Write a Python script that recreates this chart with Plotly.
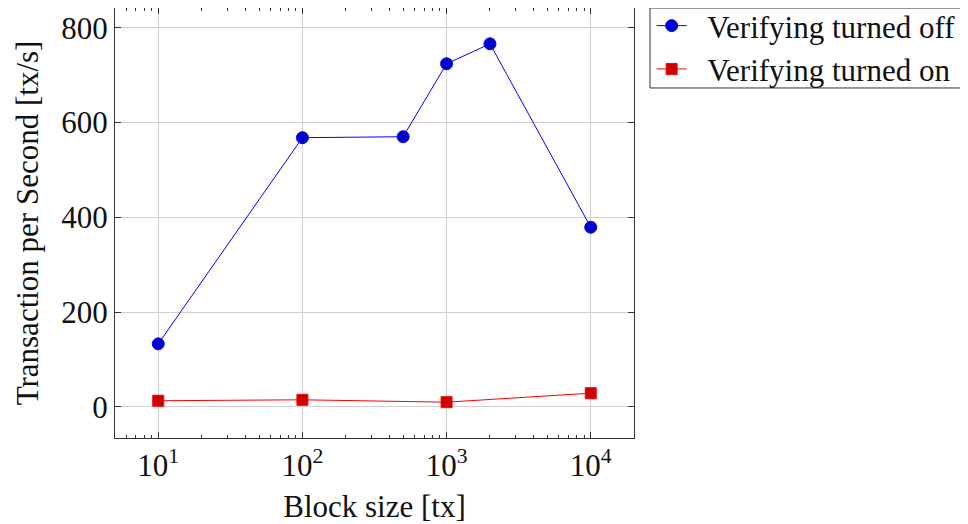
import plotly.graph_objects as go

x_off = [10, 100, 500, 1000, 2000, 10000]
y_off = [133, 568, 570, 724, 766, 379]
x_on = [10, 100, 1000, 10000]
y_on = [13, 15, 10, 29]

x_tickvals = [10, 100, 1000, 10000]
x_ticktext = ["10<sup>1</sup>", "10<sup>2</sup>", "10<sup>3</sup>", "10<sup>4</sup>"]
y_tickvals = [0, 200, 400, 600, 800]

FONT = "Liberation Serif"
FS = 31
NB = "\u00a0\u00a0"

fig = go.Figure()
fig.add_trace(go.Scatter(x=x_off, y=y_off, mode="lines+markers", name=NB + "Verifying turned off",
                         line=dict(color="#0000ff", width=1),
                         marker=dict(symbol="circle", size=12, color="#0000cc",
                                     line=dict(color="#0000ff", width=1))))
fig.add_trace(go.Scatter(x=x_on, y=y_on, mode="lines+markers", name=NB + "Verifying turned on",
                         line=dict(color="#ff0000", width=1),
                         marker=dict(symbol="square", size=11, color="#cc0000",
                                     line=dict(color="#ff0000", width=1))))

axis_common = dict(showline=True, linecolor="#333333", linewidth=1, mirror="ticks",
                   ticks="inside", ticklen=6, tickcolor="#333333",
                   showgrid=True, gridcolor="#d0d0d0", gridwidth=1, zeroline=False,
                   tickfont=dict(family=FONT, size=FS, color="#111111"))

fig.update_layout(
    width=968, height=524,
    margin=dict(l=107, r=342, t=0, b=94, autoexpand=False),
    paper_bgcolor="white", plot_bgcolor="white",
    font=dict(family=FONT, size=FS, color="#111111"),
    xaxis=dict(type="log", range=[0.7, 4.3], tickvals=x_tickvals, ticktext=x_ticktext,
               title=dict(text="Block size [tx]", font=dict(family=FONT, size=FS), standoff=13),
               minor=dict(ticks="inside", ticklen=3, tickcolor="#333333", dtick="D1", showgrid=False),
               **axis_common),
    yaxis=dict(range=[-65.6, 841.6], tickvals=y_tickvals,
               title=dict(text="Transaction per Second [tx/s]", font=dict(family=FONT, size=FS), standoff=13),
               **axis_common),
    legend=dict(x=1.034, y=1.021, xanchor="left", yanchor="top",
                borderwidth=0, bgcolor="rgba(0,0,0,0)",
                font=dict(family=FONT, size=FS), tracegroupgap=0),
    shapes=[dict(type="rect", xref="paper", yref="paper", x0=1.0308, x1=1.66, y0=0.814, y1=1.0,
                 line=dict(color="#333333", width=1), fillcolor="rgba(0,0,0,0)", layer="below")],
    showlegend=True,
)

fig.write_html("out.html")
